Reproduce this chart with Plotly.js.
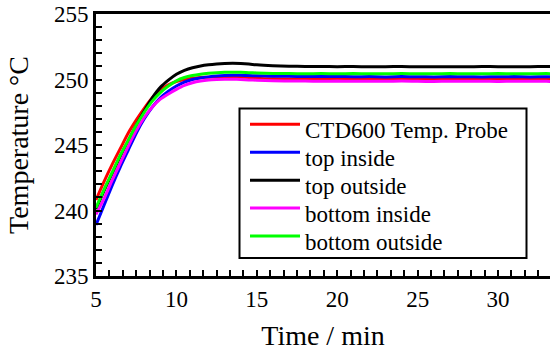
<!DOCTYPE html>
<html>
<head>
<meta charset="utf-8">
<script src="https://cdn.plot.ly/plotly-3.0.1.min.js"></script>
</head>
<body style="margin:0">
<div id="chart" style="width:550px;height:351px"></div>
<script>
const time = [5,5.5,6,6.5,7,7.5,8,8.5,9,9.5,10,10.5,11,11.5,12,12.5,13,13.5,14,14.5,15,16,17,18,19,20,21,22,23,24,25,26,27,28,29,30,31,32,33,33.3];
const ctd600 = [240.8,242.2,243.5,244.7,245.9,246.9,247.8,248.6,249.2,249.6,249.85,250.0,250.1,250.15,250.18,250.2,250.2,250.2,250.18,250.15,250.1,250.05,250.04,250.03,250.02,250.03,250.01,250.02,250.0,250.02,250.01,250.0,250.02,250.0,250.01,250.0,250.02,250.0,250.01,250.0];
const topInside = [238.9,240.4,241.9,243.3,244.6,245.9,247.0,247.9,248.6,249.1,249.5,249.8,250.0,250.12,250.2,250.26,250.3,250.32,250.32,250.3,250.28,250.25,250.24,250.23,250.22,250.23,250.21,250.22,250.2,250.22,250.21,250.2,250.22,250.21,250.2,250.21,250.22,250.2,250.21,250.2];
const topOutside = [240.1,241.5,242.8,244.1,245.3,246.5,247.6,248.6,249.4,249.95,250.4,250.7,250.9,251.03,251.12,251.18,251.22,251.24,251.22,251.18,251.12,251.05,251.01,251.0,250.99,250.98,250.99,250.97,250.98,250.99,250.97,250.98,250.98,250.97,250.99,250.98,250.97,250.98,250.99,250.98];
const bottomInside = [239.7,240.9,242.3,243.6,244.9,246.1,247.1,247.9,248.5,248.9,249.25,249.55,249.75,249.88,249.96,250.0,250.02,250.02,250.0,249.97,249.95,249.9,249.89,249.88,249.87,249.88,249.86,249.87,249.86,249.88,249.86,249.85,249.87,249.86,249.87,249.85,249.87,249.86,249.86,249.85];
const bottomOutside = [240.2,241.6,242.9,244.2,245.35,246.5,247.5,248.35,249.0,249.5,249.9,250.15,250.3,250.4,250.47,250.52,250.55,250.56,250.55,250.52,250.5,250.46,250.45,250.44,250.45,250.44,250.45,250.43,250.44,250.45,250.44,250.43,250.45,250.44,250.44,250.45,250.43,250.44,250.45,250.44];

const seriesNames = ["CTD600 Temp. Probe","top inside","top outside","bottom inside","bottom outside"];
const seriesValues = [ctd600, topInside, topOutside, bottomInside, bottomOutside];
const seriesColors = ["#ff0000","#0000ff","#000000","#ff00ff","#00ff00"];

const traces = seriesNames.map((n,i)=>({
  x: time, y: seriesValues[i], name: n, type: "scatter", mode: "lines",
  line: {color: seriesColors[i], width: 3, shape: "spline", smoothing: 0.6},
  showlegend: false
}));

// Legend panel in paper coordinates (plot area: x 96..550 px, y 14..276 px)
const px2x = p => (p - 96) / 454;
const px2y = p => (276 - p) / 262;
const legendRows = [124.3, 152.3, 180.3, 208.1, 236];
const shapes = [{
  type: "rect", xref: "paper", yref: "paper",
  x0: px2x(239.5), x1: px2x(526.5), y0: px2y(258), y1: px2y(108.5),
  line: {color: "#000", width: 2}, fillcolor: "#fff", layer: "above"
}];
const annotations = [];
seriesNames.forEach((n,i)=>{
  shapes.push({type: "line", xref: "paper", yref: "paper",
    x0: px2x(250), x1: px2x(300), y0: px2y(legendRows[i]), y1: px2y(legendRows[i]),
    line: {color: seriesColors[i], width: 3}, layer: "above"});
  annotations.push({xref: "paper", yref: "paper", x: px2x(303), y: px2y(legendRows[i] + 6),
    xanchor: "left", yanchor: "middle", showarrow: false, text: n});
});

const layout = {
  width: 550, height: 351,
  margin: {l: 96, r: 0, t: 14, b: 75},
  font: {family: "Liberation Serif", size: 23, color: "#000"},
  showlegend: false,
  shapes: shapes,
  annotations: annotations,
  xaxis: {
    range: [5, 33.23], showgrid: false, zeroline: false,
    showline: true, linecolor: "#000", linewidth: 3, mirror: true,
    ticks: "inside", ticklen: 6, tickwidth: 1.5, tickcolor: "#000",
    tick0: 5, dtick: 5,
    minor: {tick0: 5, dtick: 5/6, ticks: "inside", ticklen: 6, tickwidth: 1.5, tickcolor: "#000", showgrid: false},
    title: {text: "Time / min"}
  },
  yaxis: {
    range: [235, 255], showgrid: false, zeroline: false,
    showline: true, linecolor: "#000", linewidth: 3, mirror: false,
    ticks: "inside", ticklen: 6, tickwidth: 1.5, tickcolor: "#000",
    tick0: 235, dtick: 5,
    minor: {tick0: 235, dtick: 1, ticks: "inside", ticklen: 6, tickwidth: 1.5, tickcolor: "#000", showgrid: false},
    title: {text: "Temperature °C"}
  }
};

Plotly.newPlot("chart", traces, layout, {displayModeBar: false});
</script>
</body>
</html>
